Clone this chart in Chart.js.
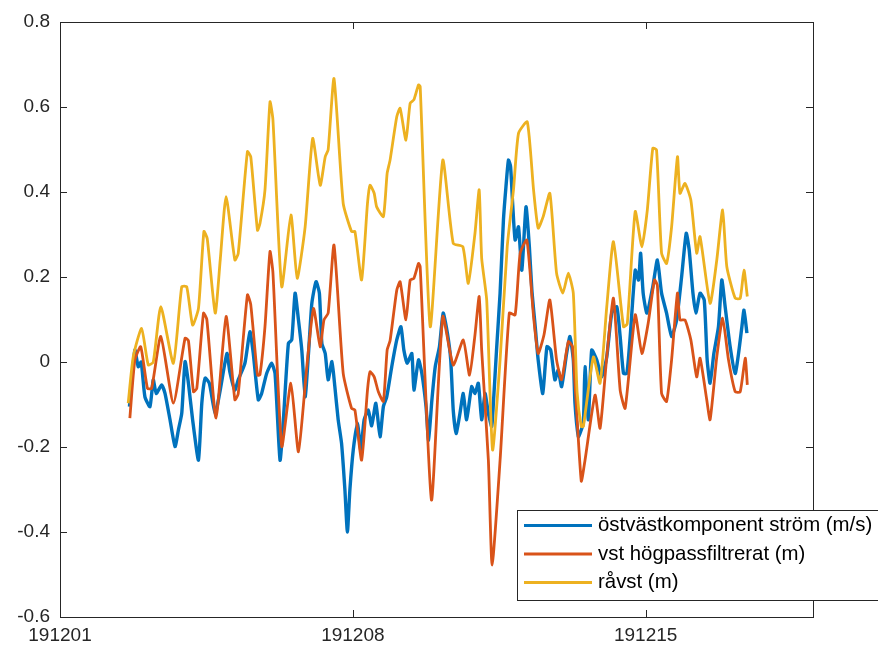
<!DOCTYPE html>
<html>
<head>
<meta charset="utf-8">
<script src="https://cdn.jsdelivr.net/npm/chart.js@4.4.1/dist/chart.umd.min.js"></script>
<style>
  html, body { margin: 0; padding: 0; background: #fff; }
  #wrap { width: 878px; height: 651px; }
</style>
</head>
<body>
<div id="wrap"><canvas id="c" width="878" height="651"></canvas></div>
<script>
// x = dagar efter 191201 00:00
const X_TICKS = [0, 7, 14];
const X_LABELS = ['191201', '191208', '191215'];
const Y_TICKS = [-0.6, -0.4, -0.2, 0, 0.2, 0.4, 0.6, 0.8];
const Y_LABELS = ['-0.6', '-0.4', '-0.2', '0', '0.2', '0.4', '0.6', '0.8'];

const SERIES_NAMES = ['östvästkomponent ström (m/s)', 'vst högpassfiltrerat (m)', 'råvst (m)'];

// östvästkomponent ström
const curT = [1.66,1.79,1.87,1.94,2.03,2.15,2.23,2.30,2.43,2.51,2.63,2.75,2.83,2.91,2.99,3.07,3.17,3.31,3.39,3.47,3.57,3.71,3.83,3.99,4.06,4.18,4.26,4.42,4.54,4.62,4.74,4.82,4.94,5.06,5.14,5.26,5.34,5.46,5.54,5.62,5.70,5.78,5.86,5.94,6.02,6.12,6.20,6.26,6.34,6.41,6.50,6.57,6.65,6.73,6.81,6.87,6.93,7.01,7.11,7.19,7.27,7.37,7.45,7.55,7.65,7.73,7.81,7.93,8.05,8.15,8.22,8.30,8.41,8.46,8.57,8.65,8.75,8.81,8.89,8.97,9.07,9.16,9.26,9.34,9.40,9.47,9.56,9.64,9.72,9.84,9.92,10.00,10.08,10.16,10.24,10.32,10.36,10.44,10.52,10.60,10.66,10.72,10.77,10.82,10.88,10.96,11.04,11.14,11.22,11.28,11.36,11.43,11.54,11.64,11.73,11.83,11.91,11.99,12.11,12.19,12.27,12.31,12.39,12.43,12.51,12.55,12.63,12.71,12.83,12.95,13.07,13.19,13.31,13.39,13.47,13.55,13.63,13.75,13.83,13.88,13.94,14.03,14.17,14.28,14.38,14.50,14.62,14.74,14.86,14.97,15.04,15.13,15.20,15.30,15.40,15.47,15.54,15.63,15.74,15.82,15.90,16.02,16.14,16.22,16.30,16.35,16.42];
const curV = [-0.105,0.028,-0.011,0.0,-0.082,-0.105,-0.042,-0.074,-0.054,-0.074,-0.136,-0.199,-0.160,-0.121,0.001,-0.05,-0.136,-0.231,-0.097,-0.038,-0.05,-0.121,-0.066,0.02,-0.023,-0.066,-0.042,-0.003,0.071,0.02,-0.089,-0.074,-0.027,-0.003,-0.027,-0.231,-0.136,0.044,0.052,0.162,0.099,0.028,-0.082,0.02,0.138,0.189,0.162,0.044,0.02,-0.042,0.001,-0.058,-0.136,-0.191,-0.30,-0.40,-0.30,-0.207,-0.144,-0.207,-0.136,-0.113,-0.15,-0.097,-0.176,-0.105,-0.082,-0.011,0.052,0.083,0.028,-0.003,0.02,-0.066,0.005,-0.027,-0.105,-0.184,-0.089,-0.011,0.036,0.115,0.068,0.005,-0.113,-0.168,-0.121,-0.074,-0.136,-0.058,-0.074,-0.05,-0.136,-0.074,-0.121,-0.152,-0.097,0.036,0.162,0.334,0.412,0.475,0.46,0.373,0.287,0.318,0.216,0.365,0.271,0.169,0.083,0.005,-0.074,0.036,0.028,-0.042,-0.019,-0.058,0.02,0.06,0.005,-0.097,-0.176,-0.168,-0.144,-0.011,-0.136,0.028,0.005,-0.035,0.012,0.115,0.13,0.06,-0.027,-0.027,0.06,0.216,0.193,0.256,0.162,0.115,0.177,0.24,0.162,0.115,0.06,0.099,0.201,0.303,0.264,0.162,0.115,0.162,0.146,0.005,-0.05,0.02,0.083,0.193,0.13,0.036,-0.027,0.02,0.083,0.122,0.068];

// vst högpassfiltrerat
const hpT = [1.67,1.79,1.93,2.09,2.19,2.41,2.71,2.99,3.07,3.19,3.27,3.43,3.51,3.73,3.97,4.18,4.26,4.48,4.56,4.72,4.78,4.90,5.02,5.09,5.30,5.52,5.70,5.90,6.06,6.22,6.31,6.41,6.55,6.77,6.97,7.05,7.21,7.35,7.41,7.51,7.61,7.73,7.82,7.89,8.05,8.13,8.27,8.37,8.46,8.57,8.61,8.88,9.15,9.40,9.64,9.79,9.92,10.02,10.08,10.24,10.33,10.52,10.74,10.88,11.00,11.16,11.32,11.43,11.57,11.71,11.87,11.99,12.15,12.25,12.46,12.55,12.79,12.91,13.07,13.23,13.39,13.51,13.75,13.91,14.06,14.21,14.28,14.38,14.50,14.62,14.76,14.82,14.94,15.08,15.22,15.30,15.46,15.54,15.70,15.84,15.98,16.14,16.26,16.38,16.43];
const hpV = [-0.132,0.005,0.036,-0.062,-0.062,0.06,-0.097,0.056,0.05,-0.07,-0.062,0.115,0.1,-0.132,0.107,-0.089,-0.075,0.158,0.135,-0.031,-0.03,0.083,0.26,0.21,-0.199,-0.05,-0.211,-0.011,0.126,0.036,0.099,0.115,0.275,-0.027,-0.109,-0.113,-0.231,-0.066,-0.023,-0.035,-0.07,-0.093,0.028,0.05,0.169,0.189,0.099,0.193,0.197,0.232,0.224,-0.325,0.107,-0.007,0.052,-0.031,0.064,0.154,0.028,-0.231,-0.478,-0.231,0.115,0.111,0.256,0.287,0.107,0.02,0.064,0.146,0.005,-0.042,0.048,0.036,-0.28,-0.231,-0.078,-0.156,0.012,0.15,-0.066,-0.109,0.111,0.02,0.091,0.193,0.18,-0.074,-0.093,0.005,0.162,0.099,0.099,0.052,-0.035,0.009,-0.089,-0.136,0.012,0.103,0.005,-0.07,-0.07,0.009,-0.054];

// råvst
const rawT = [1.63,1.75,1.95,2.11,2.23,2.41,2.71,2.91,3.03,3.17,3.31,3.44,3.52,3.71,3.83,3.97,4.18,4.26,4.48,4.56,4.72,4.78,4.90,5.02,5.09,5.30,5.52,5.67,5.86,6.04,6.22,6.34,6.41,6.55,6.77,6.97,7.05,7.21,7.35,7.41,7.51,7.57,7.73,7.82,7.89,8.05,8.13,8.27,8.37,8.46,8.57,8.61,8.85,9.15,9.40,9.63,9.76,9.92,10.02,10.08,10.20,10.34,10.52,10.69,10.84,10.96,11.17,11.32,11.43,11.55,11.71,11.87,12.02,12.15,12.27,12.36,12.46,12.51,12.75,12.91,13.07,13.23,13.47,13.56,13.75,13.91,14.04,14.17,14.26,14.38,14.50,14.62,14.76,14.82,14.94,15.08,15.22,15.30,15.54,15.70,15.84,15.94,16.14,16.26,16.35,16.43];
const rawV = [-0.097,0.012,0.079,-0.007,0.0,0.13,-0.003,0.177,0.177,0.087,0.126,0.307,0.29,0.115,0.24,0.389,0.24,0.255,0.495,0.483,0.31,0.326,0.405,0.612,0.57,0.177,0.346,0.197,0.318,0.526,0.416,0.483,0.499,0.667,0.373,0.307,0.307,0.193,0.373,0.416,0.397,0.365,0.342,0.444,0.475,0.577,0.597,0.522,0.609,0.617,0.652,0.648,0.083,0.475,0.279,0.271,0.185,0.303,0.405,0.244,0.146,-0.207,0.005,0.271,0.405,0.538,0.565,0.405,0.315,0.342,0.397,0.209,0.162,0.209,0.162,-0.07,-0.152,-0.152,0.012,-0.05,0.13,0.283,0.083,0.09,0.354,0.271,0.358,0.503,0.499,0.256,0.232,0.318,0.483,0.397,0.42,0.381,0.256,0.295,0.138,0.24,0.358,0.224,0.15,0.15,0.216,0.154];

const COLORS = ['#0072BD', '#D95319', '#EDB120'];
const AXIS = '#262626';
const FONT = '"Liberation Sans", Arial, Helvetica, sans-serif';

const pts = (ts, vs) => ts.map((t, i) => ({ x: t, y: vs[i] }));

// axelram, inåtriktade streck och legend som i MATLAB
const matlabAxes = {
  id: 'matlabAxes',
  afterDraw(chart) {
    const { ctx, chartArea: a, scales } = chart;
    ctx.save();
    ctx.strokeStyle = AXIS;
    ctx.lineWidth = 1;
    ctx.strokeRect(a.left + 0.5, a.top + 0.5, a.right - a.left, a.bottom - a.top);
    const tl = 7;
    ctx.beginPath();
    Y_TICKS.forEach(v => {
      const y = Math.round(scales.y.getPixelForValue(v)) + 0.5;
      ctx.moveTo(a.left, y); ctx.lineTo(a.left + tl, y);
      ctx.moveTo(a.right, y); ctx.lineTo(a.right - tl, y);
    });
    X_TICKS.forEach(v => {
      const x = Math.round(scales.x.getPixelForValue(v)) + 0.5;
      ctx.moveTo(x, a.bottom); ctx.lineTo(x, a.bottom - tl);
      ctx.moveTo(x, a.top); ctx.lineTo(x, a.top + tl);
    });
    ctx.stroke();

    // legend (går ut över högra kanten)
    ctx.font = '20.4px ' + FONT;
    const bx = 517, by = 510, rowH = 28.5;
    const bw = 400, bh = 90;
    ctx.fillStyle = '#fff';
    ctx.fillRect(bx, by, bw, bh);
    ctx.strokeStyle = AXIS;
    ctx.strokeRect(bx + 0.5, by + 0.5, bw, bh);
    chart.data.datasets.forEach((d, i) => {
      const y = by + 15.5 + i * rowH;
      ctx.strokeStyle = d.borderColor;
      ctx.lineWidth = 3;
      ctx.beginPath(); ctx.moveTo(524, y); ctx.lineTo(592, y); ctx.stroke();
      ctx.fillStyle = '#000';
      ctx.textBaseline = 'middle';
      ctx.fillText(d.label, 598, y);
    });
    ctx.restore();
  }
};

const mkSet = (i, data, order, w) => ({
  label: SERIES_NAMES[i], data,
  borderColor: COLORS[i], backgroundColor: COLORS[i],
  borderWidth: w, pointRadius: 0, tension: 0.18, order,
});

new Chart(document.getElementById('c'), {
  type: 'line',
  data: { datasets: [
    mkSet(0, pts(curT, curV), 3, 3.4),
    mkSet(1, pts(hpT, hpV), 2, 2.8),
    mkSet(2, pts(rawT, rawV), 1, 2.8),
  ]},
  options: {
    responsive: false, animation: false,
    layout: { padding: { top: 22, right: 65, left: 0, bottom: 0 } },
    plugins: { legend: { display: false }, tooltip: { enabled: false } },
    scales: {
      x: {
        type: 'linear', min: 0, max: 18,
        afterBuildTicks: s => { s.ticks = X_TICKS.map(v => ({ value: v })); },
        afterFit: s => { s.height = 34; },
        grid: { display: false, drawTicks: false },
        border: { display: false },
        ticks: { color: AXIS, font: { family: FONT, size: 19 }, padding: 7,
                 maxRotation: 0, autoSkip: false,
                 callback: v => X_LABELS[X_TICKS.indexOf(v)] },
      },
      y: {
        min: -0.6, max: 0.8,
        afterBuildTicks: s => { s.ticks = Y_TICKS.map(v => ({ value: v })); },
        afterFit: s => { s.width = 60; },
        grid: { display: false, drawTicks: false },
        border: { display: false },
        ticks: { color: AXIS, font: { family: FONT, size: 19 }, padding: 10,
                 callback: (v, i) => Y_LABELS[i] },
      },
    },
  },
  plugins: [matlabAxes],
});
</script>
</body>
</html>
